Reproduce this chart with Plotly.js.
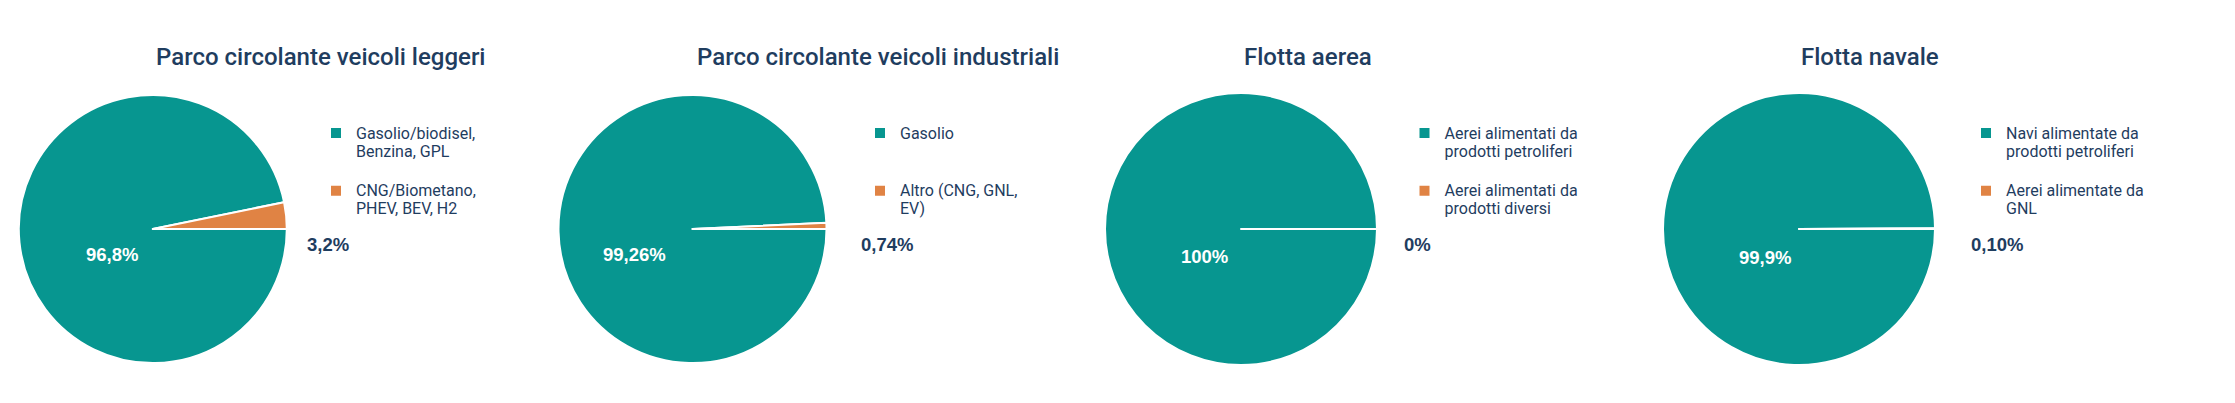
<!DOCTYPE html>
<html>
<head>
<meta charset="utf-8">
<script src="https://cdn.plot.ly/plotly-3.0.1.min.js"></script>
<style>
  html, body { margin: 0; padding: 0; background: #ffffff; }
  #chart { width: 2235px; height: 403px; }
</style>
</head>
<body>
<div id="chart"></div>
<script>
// ---- Data ----
const chartTitles = [
  "Parco circolante veicoli leggeri",
  "Parco circolante veicoli industriali",
  "Flotta aerea",
  "Flotta navale"
];
const labelsLeggeri = ["Gasolio/biodisel,\nBenzina, GPL", "CNG/Biometano,\nPHEV, BEV, H2"];
const valuesLeggeri = [96.8, 3.2];
const textLeggeri = ["96,8%", "3,2%"];

const labelsIndustriali = ["Gasolio", "Altro (CNG, GNL,\nEV)"];
const valuesIndustriali = [99.26, 0.74];
const textIndustriali = ["99,26%", "0,74%"];

const labelsAerea = ["Aerei alimentati da\nprodotti petroliferi", "Aerei alimentati da\nprodotti diversi"];
const valuesAerea = [100, 0];
const textAerea = ["100%", "0%"];

const labelsNavale = ["Navi alimentate da\nprodotti petroliferi", "Aerei alimentate da\nGNL"];
const valuesNavale = [99.9, 0.1];
const textNavale = ["99,9%", "0,10%"];

const sliceColors = ["#079690", "#e08344"];

// ---- Layout helpers ----
const W = 2235, H = 403;
const NAVY = "#1f3d5f";
const charts = [
  {labels: labelsLeggeri, values: valuesLeggeri, text: textLeggeri, cx: 152.8, cy: 229, r: 134,
   inside: [112.5, 254.5], outside: [328, 245], legendX: 316, titleX: 153.6},
  {labels: labelsIndustriali, values: valuesIndustriali, text: textIndustriali, cx: 692.5, cy: 229, r: 134,
   inside: [634.6, 254.5], outside: [887, 245], legendX: 860, titleX: 695.4},
  {labels: labelsAerea, values: valuesAerea, text: textAerea, cx: 1241, cy: 229, r: 136,
   inside: [1204.3, 256.5], outside: [1417.5, 245], legendX: 1404.5, titleX: 1241.8},
  {labels: labelsNavale, values: valuesNavale, text: textNavale, cx: 1799, cy: 229, r: 136,
   inside: [1765, 257], outside: [1997, 245], legendX: 1966, titleX: 1799.2}
];

const px = x => x / W;
const py = y => 1 - y / H;

// legend labels: every item but the last takes 3 line slots
function legendText(labels) {
  return labels.map((l, i) => {
    let lines = l.split("\n");
    if (i < labels.length - 1) { while (lines.length < 3) lines.push("&nbsp;"); }
    return lines.map(s => '<span style="font-size:16px">' + s + '</span>').join("<br>");
  });
}

const traces = [];
const annotations = [];
const layout = {
  width: W, height: H,
  margin: {l: 0, r: 0, t: 0, b: 0},
  paper_bgcolor: "#ffffff",
  plot_bgcolor: "#ffffff",
  showlegend: true,
  annotations: annotations
};

charts.forEach((c, k) => {
  const legendName = k === 0 ? "legend" : "legend" + (k + 1);
  traces.push({
    type: "pie",
    labels: legendText(c.labels),
    values: c.values,
    sort: false,
    direction: "clockwise",
    rotation: 90,
    textinfo: "none",
    hoverinfo: "label+percent",
    marker: {colors: sliceColors, line: {color: "#ffffff", width: 2}},
    domain: {x: [px(c.cx - c.r), px(c.cx + c.r)], y: [py(c.cy + c.r), py(c.cy - c.r)]},
    legend: legendName,
    showlegend: true
  });
  layout[legendName] = {
    x: px(c.legendX), xanchor: "left",
    y: py(117.5), yanchor: "top",
    valign: "top",
    bgcolor: "rgba(0,0,0,0)",
    borderwidth: 0,
    font: {family: "Roboto, 'Noto Sans', sans-serif", size: 14, color: NAVY},
    traceorder: "normal"
  };
  annotations.push({
    text: chartTitles[k], xref: "paper", yref: "paper",
    x: px(c.titleX), xanchor: "left", y: py(57), yanchor: "middle",
    showarrow: false,
    font: {family: "Roboto, 'Noto Sans', sans-serif", size: 24, color: NAVY, weight: 500}
  });
  annotations.push({
    text: c.text[0], xref: "paper", yref: "paper",
    x: px(c.inside[0]), xanchor: "center", y: py(c.inside[1]), yanchor: "middle",
    showarrow: false,
    font: {family: "'Liberation Sans', Arial, sans-serif", size: 18.5, color: "#ffffff", weight: 700}
  });
  annotations.push({
    text: c.text[1], xref: "paper", yref: "paper",
    x: px(c.outside[0]), xanchor: "center", y: py(c.outside[1]), yanchor: "middle",
    showarrow: false,
    font: {family: "'Liberation Sans', Arial, sans-serif", size: 18.5, color: NAVY, weight: 700}
  });
});

Plotly.newPlot("chart", traces, layout, {displayModeBar: false, staticPlot: true});
</script>
</body>
</html>
